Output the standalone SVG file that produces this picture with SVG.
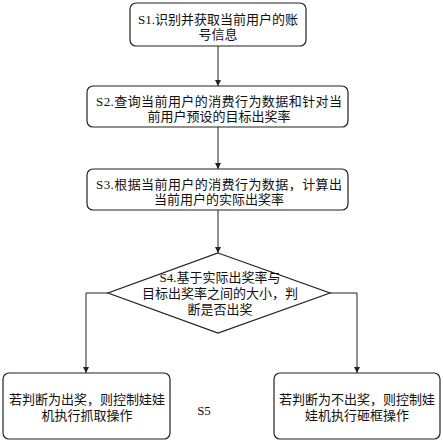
<svg xmlns="http://www.w3.org/2000/svg" width="443" height="443" viewBox="0 0 443 443">
<style>
.box{fill:#fff;stroke:#222;stroke-width:1.2}
.t{font-family:"Liberation Serif","Noto Sans CJK SC",serif;font-size:13px;fill:#111;text-anchor:middle}
.c{fill:none;stroke:#222;stroke-width:1}
</style>
<defs>
<marker id="ah" markerWidth="8" markerHeight="8" refX="6" refY="3" orient="auto" markerUnits="userSpaceOnUse">
<path d="M0,0 L6,3 L0,6 z" fill="#222"/>
</marker>
</defs>
<rect width="443" height="443" fill="#fff"/>
<g id="connectors">
<line class="c" x1="218" y1="46" x2="218" y2="86" marker-end="url(#ah)"/>
<line class="c" x1="218" y1="127" x2="218" y2="169" marker-end="url(#ah)"/>
<line class="c" x1="218" y1="210" x2="218" y2="253" marker-end="url(#ah)"/>
<polyline class="c" points="108,293 86,293 86,373" marker-end="url(#ah)"/>
<polyline class="c" points="330,293 357,293 357,373" marker-end="url(#ah)"/>
</g>
<g id="s1">
<rect class="box" x="130" y="3" width="176" height="43" rx="6"/>
<text class="t" x="218" y="24">S1.识别并获取当前用户的账</text>
<text class="t" x="218" y="39">号信息</text>
</g>
<g id="s2">
<rect class="box" x="87" y="86" width="261" height="41" rx="6"/>
<text class="t" x="219" y="106" textLength="246">S2.查询当前用户的消费行为数据和针对当</text>
<text class="t" x="219" y="121">前用户预设的目标出奖率</text>
</g>
<g id="s3">
<rect class="box" x="87" y="169" width="261" height="41" rx="6"/>
<text class="t" x="219" y="189" textLength="246">S3.根据当前用户的消费行为数据，计算出</text>
<text class="t" x="219" y="204">当前用户的实际出奖率</text>
</g>
<g id="s4">
<polygon class="box" points="218,253 330,293 218,333 108,293"/>
<text class="t" x="220" y="282">S4.基于实际出奖率与</text>
<text class="t" x="220" y="298">目标出奖率之间的大小，判</text>
<text class="t" x="220" y="314">断是否出奖</text>
</g>
<g id="left">
<rect class="box" x="3" y="373" width="167" height="66" rx="6"/>
<text class="t" x="87" y="404">若判断为出奖，则控制娃娃</text>
<text class="t" x="87" y="420">机执行抓取操作</text>
</g>
<g id="right">
<rect class="box" x="274" y="373" width="166" height="66" rx="6"/>
<text class="t" x="357" y="404">若判断为不出奖，则控制娃</text>
<text class="t" x="357" y="420">娃机执行砸框操作</text>
</g>
<g id="s5">
<text class="t" x="204" y="415">S5</text>
</g>
</svg>
